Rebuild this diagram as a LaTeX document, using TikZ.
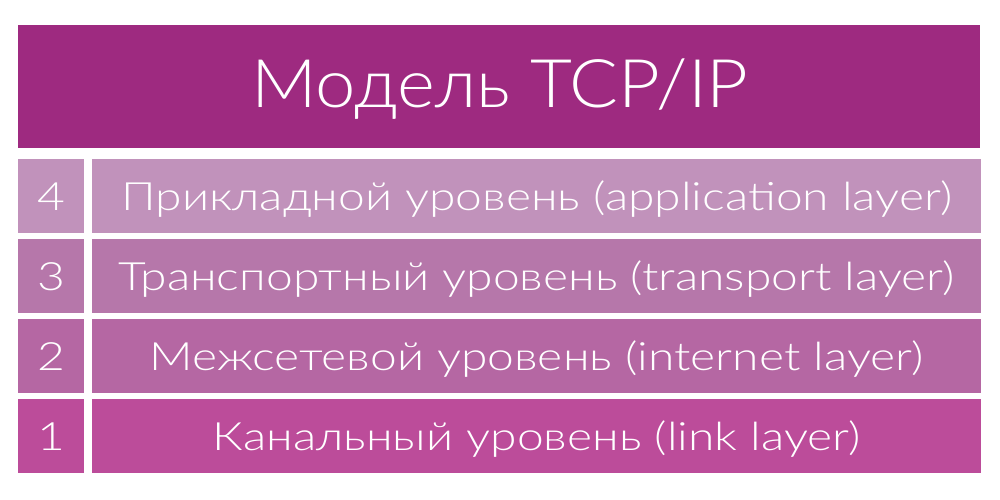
\documentclass[tikz,border=0pt]{standalone}
\usepackage{fontspec}
\setmainfont{Lato}[UprightFont=* Light]
\newfontfamily\rowfont{Lato}[UprightFont=* Light, FakeStretch=1.23]
\newfontfamily\titlefont{Lato}[UprightFont=* Light, FakeStretch=1.08]
\usetikzlibrary{calc}
\definecolor{ctitle}{RGB}{158,42,128}
\definecolor{cfour}{RGB}{193,146,187}
\definecolor{cthree}{RGB}{182,119,170}
\definecolor{ctwo}{RGB}{181,103,163}
\definecolor{cone}{RGB}{188,76,154}
\tikzset{
  cell/.style={draw=none, inner sep=0pt, anchor=north west},
  rowtext/.style={text=white, inner sep=0pt, anchor=base, font=\rowfont\fontsize{39}{39}\selectfont},
  numtext/.style={text=white, inner sep=0pt, anchor=base, font=\rowfont\fontsize{39}{39}\selectfont},
  titletext/.style={text=white, inner sep=0pt, anchor=base, font=\titlefont\fontsize{67}{67}\selectfont}
}
\begin{document}
\begin{tikzpicture}[x=1pt,y=-1pt]
\useasboundingbox[fill=white] (0,0) rectangle (1000,500);
\node[cell, fill=ctitle, minimum width=962pt, minimum height=123pt] (title) at (18,25) {};
\node[titletext] (titlelbl) at (500,108) {Модель TCP/IP};
\foreach \n/\y/\c/\t in {4/159/cfour/{Прикладной уровень (application layer)},
                         3/239/cthree/{Транспортный уровень (transport layer)},
                         2/319/ctwo/{Межсетевой уровень (internet layer)},
                         1/399/cone/{Канальный уровень (link layer)}}{
  \node[cell, fill=\c, minimum width=66pt, minimum height=74pt] (num\n) at (18,\y) {};
  \node[cell, fill=\c, minimum width=889pt, minimum height=74pt] (lay\n) at (92,\y) {};
  \node[numtext] (numt\n) at ($(num\n.center)+(0,14)$) {\n};
  \node[rowtext] (layt\n) at ($(lay\n.center)+(0,14)$) {\t};
}
\end{tikzpicture}
\end{document}
